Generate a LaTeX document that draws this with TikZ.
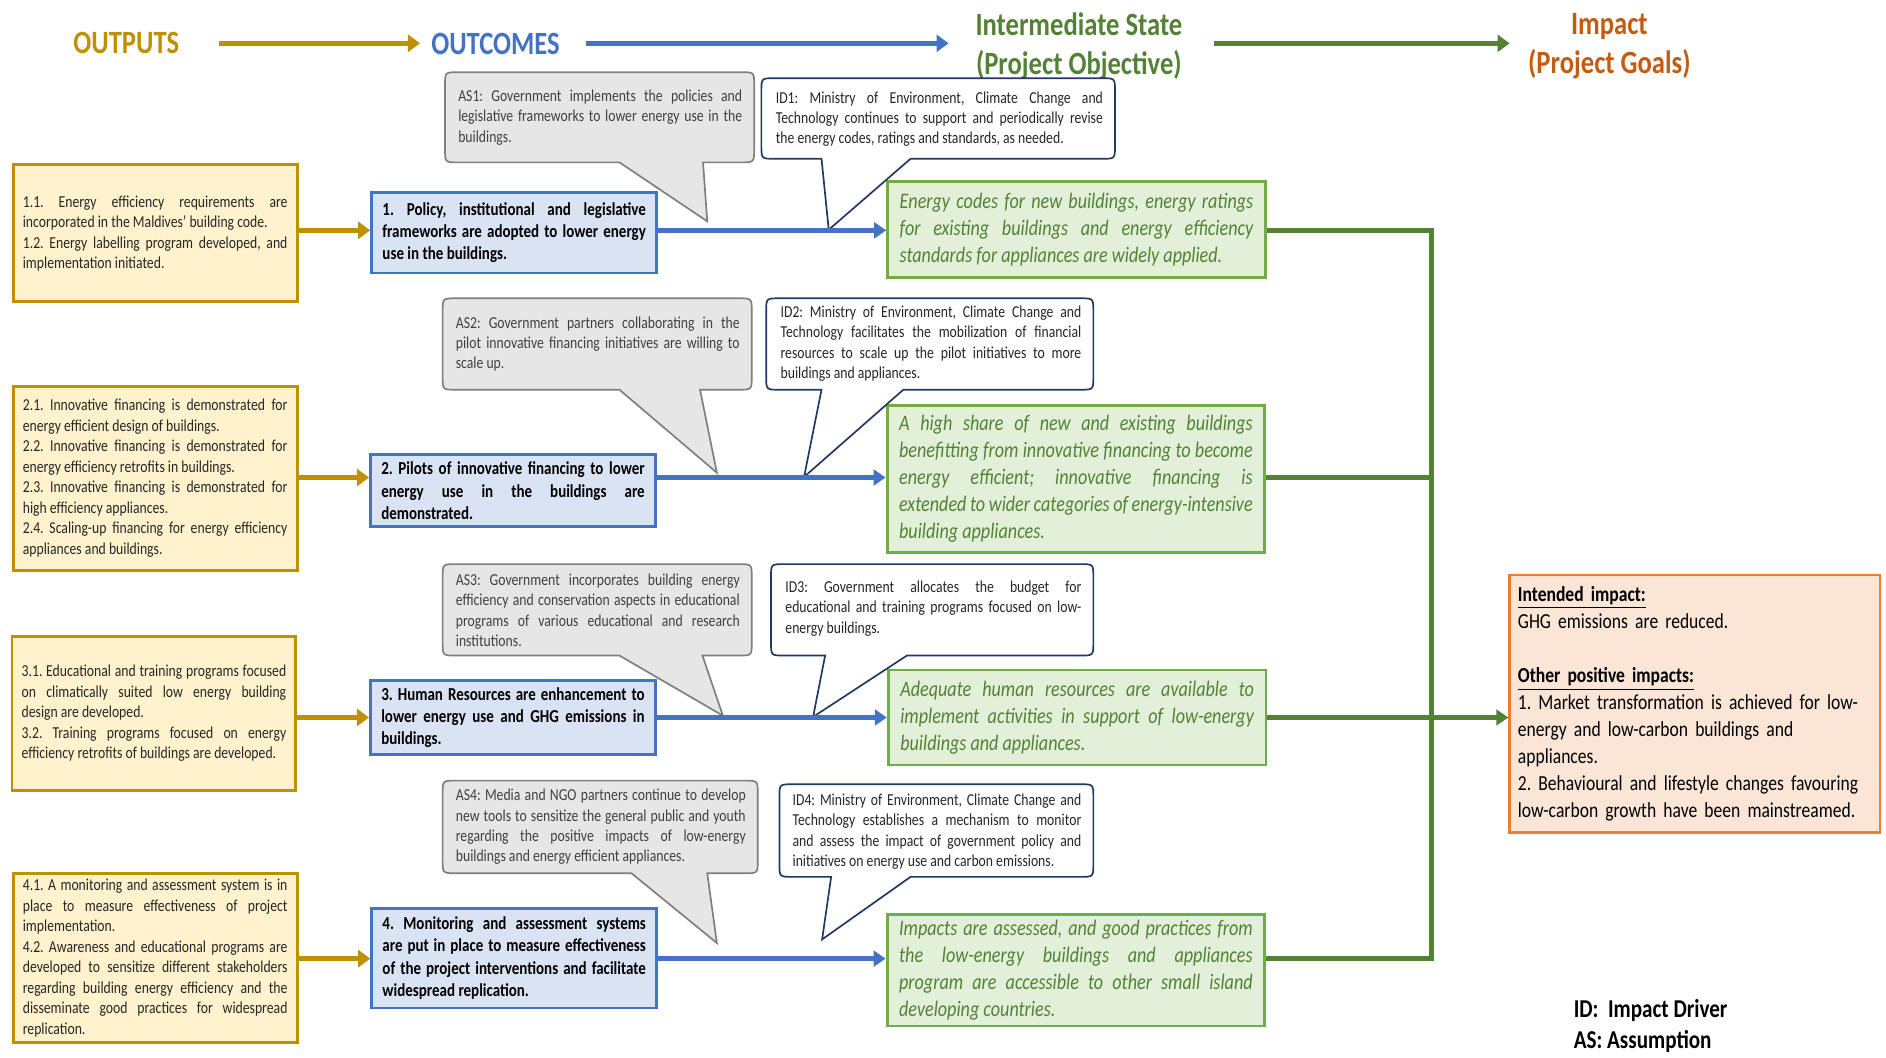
\documentclass[tikz,border=0pt]{standalone}
\usepackage{fontspec}
\setmainfont{Carlito}[FakeStretch=0.82]
\usetikzlibrary{arrows.meta}
\tolerance=10000
\hbadness=10000
\hyphenpenalty=10000
\exhyphenpenalty=50
\frenchspacing
\definecolor{cGold}{HTML}{BF9000}
\definecolor{cGoldFill}{HTML}{FFF2CC}
\definecolor{cBlue}{HTML}{4472C4}
\definecolor{cBlueFill}{HTML}{DAE3F3}
\definecolor{cGreenL}{HTML}{548235}
\definecolor{cGreenB}{HTML}{70AD47}
\definecolor{cGreenFill}{HTML}{E2F0D9}
\definecolor{cGreenT}{HTML}{538135}
\definecolor{cOrange}{HTML}{C55A11}
\definecolor{cImpB}{HTML}{ED7D31}
\definecolor{cImpFill}{HTML}{FBE5D6}
\definecolor{cAsFill}{HTML}{E7E6E6}
\definecolor{cAsLine}{HTML}{7F7F7F}
\definecolor{cAsText}{HTML}{404040}
\definecolor{cIdLine}{HTML}{203864}
\definecolor{cDark}{HTML}{262626}
\newcommand\fntS{\fontsize{6.95pt}{8.5pt}\selectfont}
\newcommand\fntC{\fontsize{7.6pt}{9.25pt}\selectfont\bfseries}
\newcommand\fntG{\fontsize{9.2pt}{11.25pt}\selectfont\itshape}
\newcommand\fntI{\fontsize{8.9pt}{11.25pt}\selectfont}
\newcommand\fntH{\fontsize{13.5pt}{16.5pt}\selectfont\bfseries}
\newcommand\fntL{\fontsize{10.7pt}{13pt}\selectfont\bfseries}
% callout outline: #1 style, #2 x1, #3 y1, #4 x2, #5 y2, #6 base left, #7 base right, #8 tip
\newcommand\mycallout[8]{%
  \draw[#1] (#6,#5) -- ({#2+11},#5) .. controls (#2,#5) .. (#2,{#5-11})
    -- (#2,{#3+11}) .. controls (#2,#3) .. ({#2+11},#3)
    -- ({#4-11},#3) .. controls (#4,#3) .. (#4,{#3+11})
    -- (#4,{#5-11}) .. controls (#4,#5) .. ({#4-11},#5)
    -- (#7,#5) -- (#8) -- cycle;}
\tikzset{
  obox/.style={draw=cGold, fill=cGoldFill, line width=1.2pt, text width=110pt,
    inner xsep=4pt, inner ysep=1pt, minimum width=118pt, align=justify, font=\fntS, text=cDark},
  cbox/.style={draw=cBlue, fill=cBlueFill, line width=1.2pt, text width=109.5pt,
    inner xsep=4.5pt, inner ysep=1pt, align=justify, font=\fntC, text=black},
  gbox/.style={draw=cGreenB, fill=cGreenFill, line width=1.2pt, text width=147pt,
    inner xsep=5pt, inner ysep=1pt, align=justify, font=\fntG, text=cGreenT},
  impbox/.style={draw=cImpB, fill=cImpFill, line width=1pt, text width=147pt,
    inner xsep=3.5pt, inner ysep=1pt, align=left, font=\fntI, text=black},
  asshape/.style={fill=cAsFill, draw=cAsLine, line width=0.7pt, line join=miter},
  idshape/.style={fill=white, draw=cIdLine, line width=0.7pt, line join=miter},
  astext/.style={inner sep=0pt, align=justify, font=\fntS, text=cAsText},
  idtext/.style={inner sep=0pt, align=justify, font=\fntS, text=cDark},
  hdr/.style={inner sep=0pt, font=\fntH},
  legend/.style={inner sep=0pt, align=left, font=\fntL, text=black},
  goldarr/.style={draw=cGold, line width=2pt, -{Triangle[length=5pt,width=7pt]}},
  bluearr/.style={draw=cBlue, line width=2pt, -{Triangle[length=5pt,width=6.5pt]}},
  greenln/.style={draw=cGreenL, line width=2pt, line join=miter},
  greenarr/.style={draw=cGreenL, line width=2pt, -{Triangle[length=5pt,width=6.5pt]}},
}
\begin{document}
\begin{tikzpicture}[x=0.5pt,y=-0.5pt]
\fill[white] (0,0) rectangle (1568,879);
\useasboundingbox (0,0) rectangle (1568,879);

% row levels and trunk
\coordinate (r1) at (0,191.5);
\coordinate (r2) at (0,397);
\coordinate (r3) at (0,596.5);
\coordinate (r4) at (0,797);
\coordinate (trunk) at (1190,0);

% headers
\node[hdr, text=cGold] (hOut) at (105,36) {OUTPUTS};
\node[hdr, text=cBlue] (hOutc) at (412,36.5) {OUTCOMES};
\node[hdr, text=cGreenT, align=center] (hInt) at (897,38.5) {Intermediate State\\(Project Objective)};
\node[hdr, text=cOrange, align=center] (hImp) at (1338,38.5) {Impact\\(Project Goals)};
\draw[goldarr, line width=2.2pt, shorten <=16.5pt, shorten >=4.5pt] (hOut.east) -- (hOutc.west |- hOut.east);
\draw[bluearr, line width=2.2pt, -{Triangle[length=5pt,width=7pt]}, shorten <=10.5pt, shorten >=11pt] (hOutc.east |- hOut.east) -- (hInt.west |- hOut.east);
\draw[greenarr, line width=2.2pt, -{Triangle[length=5pt,width=7pt]}, shorten <=13pt, shorten >=7.5pt] (hInt.east |- hOut.east) -- (hImp.west |- hOut.east);

% outputs
\node[obox, minimum height=57pt] (o1) at (129,194) {1.1. Energy efficiency requirements are\linebreak incorporated in the Maldives’ building code.\par 1.2. Energy labelling program developed, and\linebreak implementation initiated.};
\node[obox, minimum height=76.5pt] (o2) at (129,397.5) {2.1. Innovative financing is demonstrated for\linebreak energy efficient design of buildings.\par 2.2. Innovative financing is demonstrated for\linebreak energy efficiency retrofits in buildings.\par 2.3. Innovative financing is demonstrated for\linebreak high efficiency appliances.\par 2.4. Scaling-up financing for energy efficiency\linebreak appliances and buildings.};
\node[obox, minimum height=64pt] (o3) at (128,593) {3.1. Educational and training programs focused\linebreak on climatically suited low energy building\linebreak design are developed.\par 3.2. Training programs focused on energy\linebreak efficiency retrofits of buildings are developed.};
\node[obox, minimum height=70.5pt] (o4) at (129,796.5) {4.1. A monitoring and assessment system is in\linebreak place to measure effectiveness of project\linebreak implementation.\par 4.2. Awareness and educational programs are\linebreak developed to sensitize different stakeholders\linebreak regarding building energy efficiency and the\linebreak disseminate good practices for widespread\linebreak replication.};

% outcomes
\node[cbox, minimum height=33.5pt] (c1) at (427.5,193.5) {1. Policy, institutional and legislative\linebreak frameworks are adopted to lower energy\linebreak use in the buildings.};
\node[cbox, minimum height=30pt] (c2) at (426.5,408) {2. Pilots of innovative financing to lower\linebreak energy use in the buildings are\linebreak demonstrated.};
\node[cbox, minimum height=30.5pt] (c3) at (426.5,596.5) {3. Human Resources are enhancement to\linebreak lower energy use and GHG emissions in\linebreak buildings.};
\node[cbox, minimum height=41.5pt] (c4) at (427.5,796.5) {4. Monitoring and assessment systems\linebreak are put in place to measure effectiveness\linebreak of the project interventions and facilitate\linebreak widespread replication.};

% intermediate states
\node[gbox, minimum height=40pt] (g1) at (895,191) {Energy codes for new buildings, energy ratings\linebreak for existing buildings and energy efficiency\linebreak standards for appliances are widely applied.};
\node[gbox, minimum height=61pt] (g2) at (894.5,398) {A high share of new and existing buildings\linebreak benefitting from innovative financing to become\linebreak energy efficient; innovative financing is\linebreak extended to wider categories of energy-intensive\linebreak building appliances.};
\node[gbox, minimum height=39.5pt] (g3) at (895.5,596.5) {Adequate human resources are available to\linebreak implement activities in support of low-energy\linebreak buildings and appliances.};
\node[gbox, minimum height=46.5pt] (g4) at (894.5,806.5) {Impacts are assessed, and good practices from\linebreak the low-energy buildings and appliances\linebreak program are accessible to other small island\linebreak developing countries.};

% impact
\node[impbox, minimum height=107pt] (imp) at (1409,585) {\underline{\textbf{Intended impact:}}\\GHG emissions are reduced.\\[11.25pt]\underline{\textbf{Other positive impacts:}}\\1. Market transformation is achieved for low-\\energy and low-carbon buildings and\\appliances.\\2. Behavioural and lifestyle changes favouring\\low-carbon growth have been mainstreamed.};

% legend
\node[legend, anchor=west] (leg) at (1308,853) {ID:\ \ Impact Driver\\AS: Assumption};

% callout tips
\coordinate (as1tip) at (588,184);
\coordinate (id1tip) at (689,191);
\coordinate (as2tip) at (596,393);
\coordinate (id2tip) at (668.5,396.5);
\coordinate (as3tip) at (601,595);
\coordinate (id3tip) at (676,596);
\coordinate (as4tip) at (596,784);
\coordinate (id4tip) at (683.5,781);

% callouts
\mycallout{asshape}{370}{60}{627}{135}{515}{584.5}{as1tip}
\node[astext, text width=118pt] (as1) at (499,97.5) {AS1: Government implements the policies and\linebreak legislative frameworks to lower energy use in the\linebreak buildings.};
\mycallout{idshape}{633}{65}{927}{132}{683}{757}{id1tip}
\node[idtext, text width=136pt] (id1) at (781,99) {ID1: Ministry of Environment, Climate Change and\linebreak Technology continues to support and periodically revise\linebreak the energy codes, ratings and standards, as needed.};

\mycallout{asshape}{368}{248}{625}{324}{515}{582}{as2tip}
\node[astext, text width=118pt] (as2) at (497,286) {AS2: Government partners collaborating in the\linebreak pilot innovative financing initiatives are willing to\linebreak scale up.};
\mycallout{idshape}{637}{248}{909}{324}{683}{751}{id2tip}
\node[idtext, text width=125pt] (id2) at (774,285.5) {ID2: Ministry of Environment, Climate Change and\linebreak Technology facilitates the mobilization of financial\linebreak resources to scale up the pilot initiatives to more\linebreak buildings and appliances.};

\mycallout{asshape}{368}{469}{625}{545}{515}{584}{as3tip}
\node[astext, text width=118pt] (as3) at (497,507.5) {AS3: Government incorporates building energy\linebreak efficiency and conservation aspects in educational\linebreak programs of various educational and research\linebreak institutions.};
\mycallout{idshape}{641}{469}{909}{545}{686}{754}{id3tip}
\node[idtext, text width=123pt] (id3) at (776,506) {ID3: Government allocates the budget for\linebreak educational and training programs focused on low-\linebreak energy buildings.};

\mycallout{asshape}{368}{649}{630}{726}{525}{588}{as4tip}
\node[astext, text width=120.5pt] (as4) at (499.5,687.5) {AS4: Media and NGO partners continue to develop\linebreak new tools to sensitize the general public and youth\linebreak regarding the positive impacts of low-energy\linebreak buildings and energy efficient appliances.};
\mycallout{idshape}{648}{652}{909}{729}{691}{757}{id4tip}
\node[idtext, text width=120pt] (id4) at (779,691.5) {ID4: Ministry of Environment, Climate Change and\linebreak Technology establishes a mechanism to monitor\linebreak and assess the impact of government policy and\linebreak initiatives on energy use and carbon emissions.};

% connectors: outputs -> outcomes
\draw[goldarr] (o1.east |- r1) -- (c1.west |- r1);
\draw[goldarr] (o2.east |- r2) -- (c2.west |- r2);
\draw[goldarr] (o3.east |- r3) -- (c3.west |- r3);
\draw[goldarr] (o4.east |- r4) -- (c4.west |- r4);
% outcomes -> intermediate states
\draw[bluearr] (c1.east |- r1) -- (g1.west |- r1);
\draw[bluearr] (c2.east |- r2) -- (g2.west |- r2);
\draw[bluearr] (c3.east |- r3) -- (g3.west |- r3);
\draw[bluearr] (c4.east |- r4) -- (g4.west |- r4);
% intermediate states -> impact
\draw[greenln] (g1.east |- r1) -- (trunk |- r1) -- (trunk |- r4) -- (g4.east |- r4);
\draw[greenln] (g2.east |- r2) -- (trunk |- r2);
\draw[greenln] (g3.east |- r3) -- (trunk |- r3);
\draw[greenarr] (trunk |- r3) -- (imp.west |- r3);
\end{tikzpicture}
\end{document}
